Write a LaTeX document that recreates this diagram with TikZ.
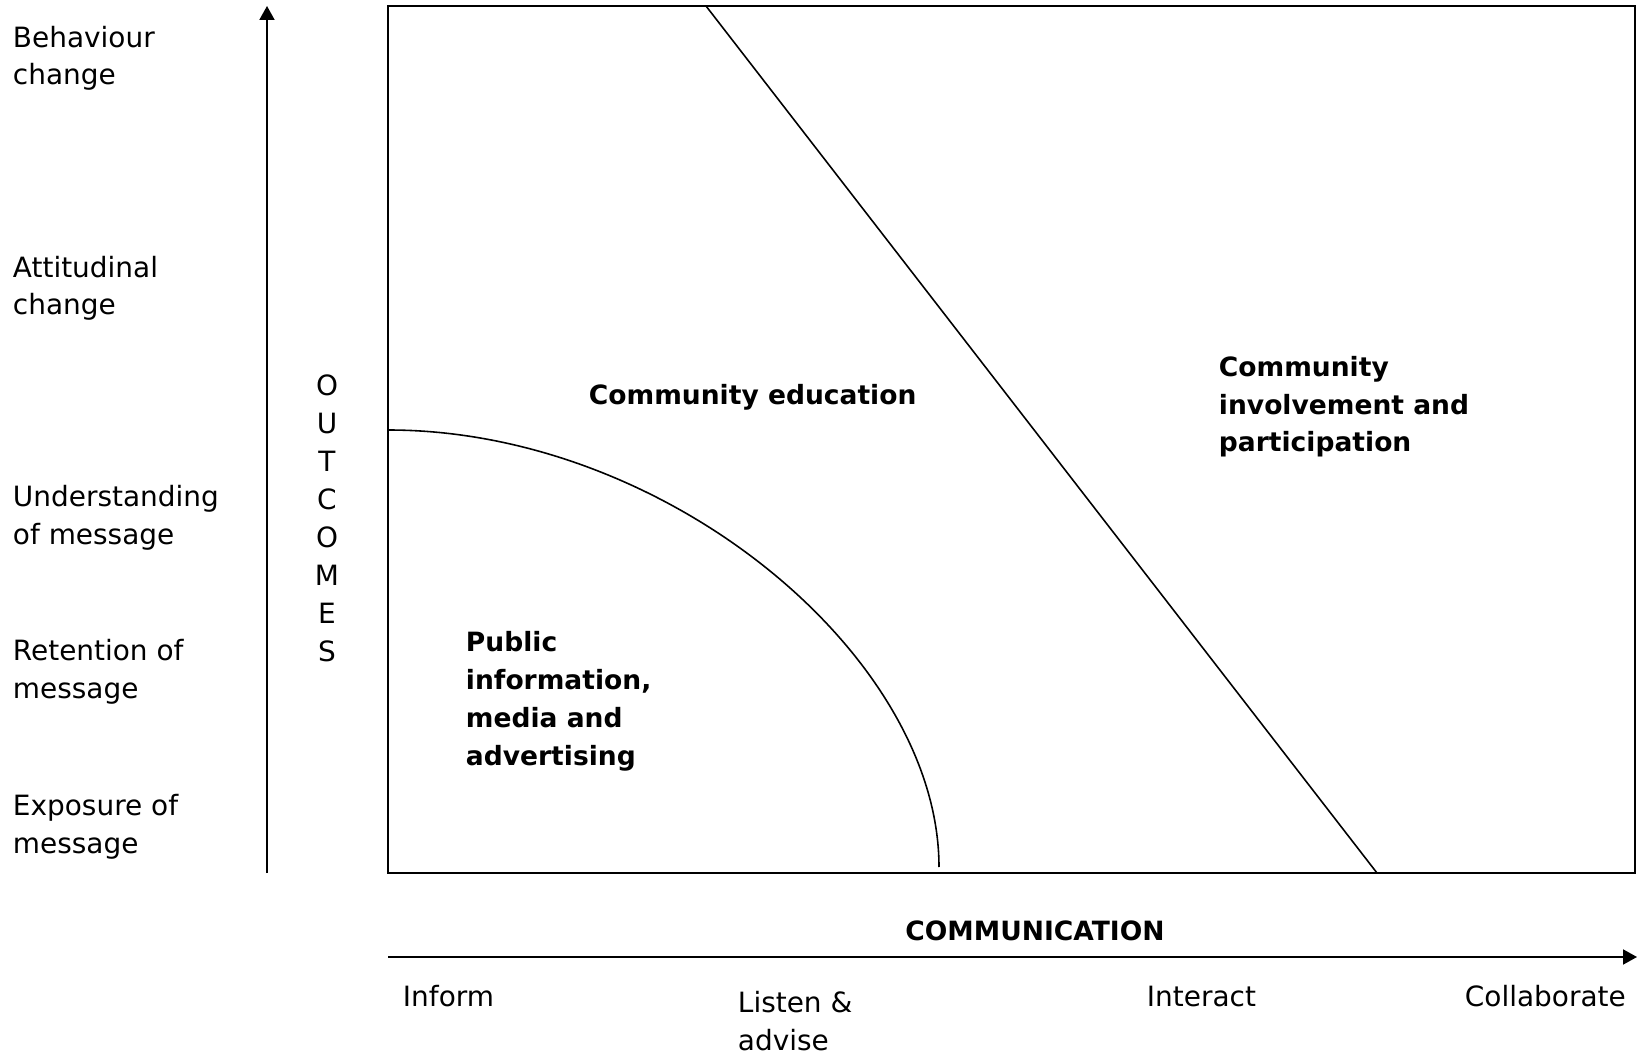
\documentclass[tikz,border=0pt]{standalone}
\usepackage{fontspec}
\setmainfont{DejaVu Sans}
\usetikzlibrary{arrows.meta, positioning}
\definecolor{cink}{HTML}{000000}
\tikzset{
  every picture/.style={line width=1.1pt, x=0.02cm, y=-0.02cm},
  outcome/.style={anchor=base west, inner sep=0pt, align=left, text=cink, font=\fontsize{15.9pt}{21.6pt}\selectfont},
  stage/.style={outcome},
  zone/.style={outcome, font=\fontsize{15.1pt}{21.5pt}\selectfont\bfseries},
  axis/.style={-{Triangle[length=0.28cm, width=0.3cm]}, draw=cink, line width=1.1pt},
  divide/.style={draw=cink, line width=0.9pt},
}

\begin{document}
\begin{tikzpicture}
  \useasboundingbox (0,0) rectangle (1644,1057);

  % outcomes, placed on the baseline of their last line
  \node[outcome] (behave) at (12,85)  {Behaviour\\change};
  \node[outcome] (attit)  at (12,315) {Attitudinal\\change};
  \node[outcome] (under)  at (12,544) {Understanding\\of message};
  \node[outcome] (retain) at (12,698) {Retention of\\message};
  \node[outcome] (expose) at (12,853) {Exposure of\\message};
  \node[outcome, anchor=base, align=center] (outc) at (327,661) {O\\U\\T\\C\\O\\M\\E\\S};

  % axes
  \coordinate (yfoot) at (267,873);
  \coordinate (ytip)  at (267,6);
  \coordinate (xfoot) at (388,957);
  \coordinate (xtip)  at (1637,957);
  \draw[axis] (yfoot) -- (ytip);
  \draw[axis] (xfoot) -- (xtip);

  % the field and its three zones
  \coordinate (bl) at (388,873);
  \coordinate (tr) at (1635,6);
  \draw[draw=cink] (bl) rectangle (tr);
  \coordinate (dtop) at (706,6);
  \coordinate (dbot) at (1377,873);
  \draw[divide] (dtop) -- (dbot);
  \coordinate (cstart) at (388,430);
  \coordinate (cend)   at (939,867);
  \draw[divide] (cstart) .. controls +(280,0) and +(0,-210) .. (cend);

  \node[zone] (pub)  at (465,765)  {Public\\information,\\media and\\advertising};
  \node[zone] (edu)  at (588,405)  {Community education};
  \node[zone] (inv)  at (1218,452) {Community\\involvement and\\participation};

  % communication stages
  \node[zone, anchor=base] (comm) at (1035,940) {COMMUNICATION};
  \node[stage] (inform) at (402,1006)  {Inform};
  \node[stage] (listen) at (737,1050)  {Listen \&\\advise};
  \node[stage] (inter)  at (1146,1006) {Interact};
  \node[stage] (collab) at (1464,1006) {Collaborate};
\end{tikzpicture}
\end{document}
